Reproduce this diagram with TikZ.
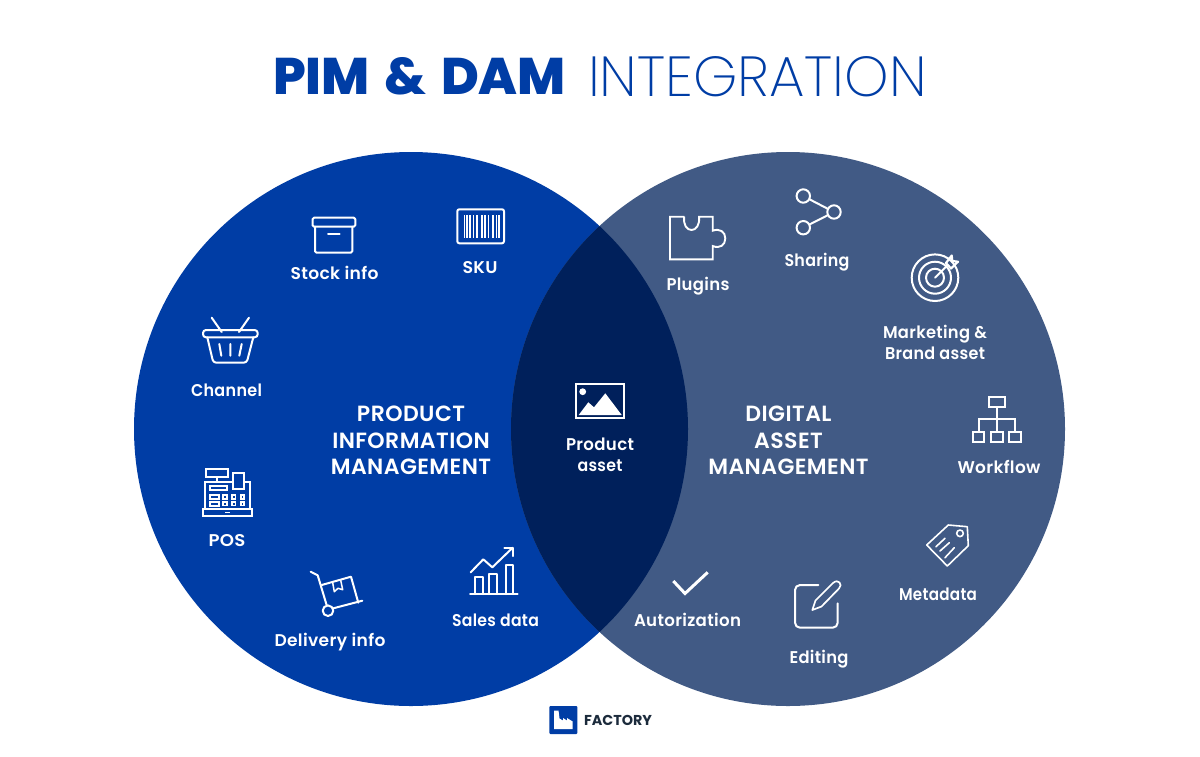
\documentclass[tikz,border=0pt]{standalone}
\usepackage{fontspec}
\usepackage{graphicx}
\setmainfont{Poppins}[BoldFont={Poppins SemiBold},LetterSpace=2]
\newfontfamily\heavyface{Poppins ExtraBold}[WordSpace=1.5]
\newfontfamily\thinface{Poppins ExtraLight}
\newfontfamily\logoface{Poppins Bold}
\definecolor{pimblue}{HTML}{003DA5}
\definecolor{damblue}{HTML}{415A85}
\definecolor{coreblue}{HTML}{00205B}
\definecolor{logoink}{HTML}{1C2B3C}
% Sets a word to a given width while keeping its height
\newcommand{\fitw}[2]{\resizebox{#1pt}{\height}{#2}}
\tikzset{
  icon/.style={draw=white,line width=2pt,line join=round,line cap=round},
  iconthin/.style={draw=white,line width=1.7pt,line join=miter},
  itemlabel/.style={text=white,font=\bfseries\fontsize{17}{21}\selectfont,align=center,inner sep=0pt},
  arealabel/.style={text=white,font=\bfseries\fontsize{22}{26.3}\selectfont,align=center,inner sep=0pt}
}
\begin{document}
\begin{tikzpicture}[x=1pt,y=-1pt]
\useasboundingbox (0,0) rectangle (1200,756);
\fill[white] (0,0) rectangle (1200,756);

% Title
\node[anchor=center,inner sep=0pt,text=pimblue] (titlebold) at (419.5,76.5)
  {\resizebox{293pt}{!}{\heavyface\fontsize{56}{56}\selectfont PIM \& DAM}};
\node[anchor=center,inner sep=0pt,text=pimblue] (titlethin) at (757.5,76.5)
  {\resizebox{339pt}{!}{\thinface\fontsize{56}{56}\selectfont INTEGRATION}};

% Venn circles and their overlap
\fill[pimblue] (411,429) circle[radius=277];
\fill[damblue] (788,429) circle[radius=277];
\begin{scope}
  \clip (411,429) circle[radius=277];
  \fill[coreblue] (788,429) circle[radius=277];
\end{scope}

% Area headings
\node[arealabel] (pim) at (411,440.5) {PRODUCT\\INFORMATION\\MANAGEMENT};
\node[arealabel] (dam) at (788.5,440.5) {DIGITAL\\ASSET\\MANAGEMENT};

% Item labels
\node[itemlabel] (stock) at (334.5,273) {\fitw{88}{Stock info}};
\node[itemlabel] (sku) at (480,267.5) {\fitw{35}{SKU}};
\node[itemlabel] (channel) at (226.5,390) {\fitw{71}{Channel}};
\node[itemlabel] (pos) at (227,540.5) {\fitw{37}{POS}};
\node[itemlabel] (delivery) at (330,642) {\fitw{111}{Delivery info}};
\node[itemlabel] (sales) at (495.5,620) {\fitw{87}{Sales data}};
\node[itemlabel] (product) at (600,454.5) {\fitw{68}{Product}\\\fitw{45}{asset}};
\node[itemlabel] (plugins) at (698,286) {\fitw{63}{Plugins}};
\node[itemlabel] (sharing) at (817,262) {\fitw{65}{Sharing}};
\node[itemlabel] (marketing) at (935,342.5) {\fitw{104}{Marketing \&}\\\fitw{100}{Brand asset}};
\node[itemlabel] (workflow) at (999,467) {\fitw{83}{Workflow}};
\node[itemlabel] (metadata) at (938,594) {\fitw{78}{Metadata}};
\node[itemlabel] (editing) at (819,659) {\fitw{59}{Editing}};
\node[itemlabel] (autorization) at (687.5,619.5) {\fitw{107}{Autorization}};

% Storage box
\draw[icon,rounded corners=1.5pt] (312.5,226.7) -- (312.5,217.7) -- (355.3,217.7) -- (355.3,226.7) -- cycle;
\draw[icon,rounded corners=1.5pt] (315,226.7) -- (315,252.7) -- (352.3,252.7) -- (352.3,226.7);
\draw[icon] (328,233.7) -- (339.7,233.7);

% Barcode
\draw[icon,rounded corners=2pt] (457.3,209.3) rectangle (504,243.3);
\foreach \bx/\bw in {463.5/1.3,466.3/1.3,469/1.8,472.5/1,476/2.4,481/1.5,484/1.5,487.5/1.2,491.5/2.2,496/1,498.3/1.2}
  \fill[white] (\bx,215) rectangle ++(\bw,22.5);

% Shopping basket
\draw[icon,rounded corners=3pt] (203,330) rectangle (257.7,337.3);
\draw[icon,rounded corners=3pt] (207.3,337.3) -- (213.3,362.7) -- (246.7,362.7) -- (253.3,337.3);
\draw[icon] (211.7,317.7) -- (221.7,332) (249,317.7) -- (239,332);
\draw[icon] (219.3,344) -- (221.3,355.7) (230.3,344) -- (230.3,355.7) (241.7,344) -- (239.3,355.7);

% Cash register
\begin{scope}[iconthin]
  \draw (202.7,509.3) rectangle (252,515.7);
  \draw (204.7,509.3) -- (204.7,481.7) -- (232.7,481.7);
  \draw (244.3,481.7) -- (250,481.7) -- (250,509.3);
  \draw (205.7,469) rectangle (228.3,476.7);
  \draw (217,476.7) -- (217,481.7);
  \draw (232.7,489.3) -- (232.7,472.7) -- (244.3,472.7) -- (244.3,489.3) -- cycle;
  \draw (210,485.7) rectangle (227.3,490.3);
  \draw (210,495.3) rectangle (219.3,498.7);
  \draw (210,501.7) rectangle (219.3,505.7);
  \foreach \kx in {223.3,232,240.7}{
    \draw (\kx,495.3) rectangle ++(3.4,3.4);
    \draw (\kx,502) rectangle ++(3.4,3.4);
  }
  \draw (225,512.4) -- (230,512.4);
\end{scope}

% Hand truck with parcel
\draw[icon] (310.7,571.7) -- (317.7,575.3) -- (326.7,605.3);
\draw[icon] (328,610.7) circle[radius=5.3];
\draw[icon] (333.3,608.3) -- (362.3,600.7);
\draw[icon] (321.7,585) -- (351,576.7) -- (358.3,602.7);
\draw[icon,line width=1.5pt] (332.7,582.7) -- (334.3,591.7) -- (338,588.3) -- (342.7,589.7) -- (340.7,580.2);

% Rising bar chart
\draw[icon] (470,594) -- (517.7,594);
\draw[icon] (475,594) -- (475,576.7) -- (483.3,576.7) -- (483.3,594);
\draw[icon] (489.3,594) -- (489.3,574.3) -- (497.3,574.3) -- (497.3,594);
\draw[icon] (505.7,594) -- (505.7,564.7) -- (512.7,564.7) -- (512.7,594);
\draw[icon] (470.7,572.3) -- (483.3,559.3) -- (492.3,567.3) -- (512.7,547.7);
\draw[icon] (504.3,547.7) -- (512.7,547.7) -- (512.7,556);

% Picture frame with mountains
\draw[draw=white,line width=2pt] (575.7,383.7) rectangle (624.3,417.7);
\fill[white] (582.7,391.7) circle[radius=3.4];
\fill[white] (578.7,415) -- (588.3,402.3) -- (594,407.3) -- (605.3,393.3) -- (621.7,415) -- cycle;

% Puzzle piece
\draw[iconthin,line width=1.9pt] (684.3,216.7) -- (670,216.7) -- (670,259.3) -- (712.7,259.3) -- (712.7,246)
  .. controls (720,249) and (725.3,245) .. (725.3,238.3)
  .. controls (725.3,232) and (720,228) .. (712.7,230.7)
  -- (712.7,216.7) -- (699,216.7)
  .. controls (700,225) and (696,230) .. (691.6,230)
  .. controls (687,230) and (683,225) .. (684.3,216.7);

% Share glyph
\draw[icon] (803.3,196) circle[radius=6.7];
\draw[icon] (834,212) circle[radius=6.7];
\draw[icon] (803.3,227.7) circle[radius=6.7];
\draw[icon] (809.3,199.2) -- (828,208.9) (809.3,224.6) -- (828,215.1);

% Target with dart
\draw[icon] (935,277.7) circle[radius=23.3];
\draw[icon] (935,277.7) circle[radius=16];
\draw[icon] (935,277.7) circle[radius=9];
\draw[icon] (935,277.7) -- (947,265.7);
\draw[icon,line width=2.2pt] (946,263) -- (951.7,255.5) -- (952.3,261) -- (958,261.7) -- (951,268.5) -- cycle;

% Workflow tree
\begin{scope}[iconthin]
  \draw (989,397.3) rectangle (1005.3,407.3);
  \draw (997,407.3) -- (997,432.3);
  \draw (978.7,432.3) -- (978.7,419.3) -- (1015.3,419.3) -- (1015.3,432.3);
  \draw (973,432.3) rectangle (984.3,442.3);
  \draw (991,432.3) rectangle (1002.7,442.3);
  \draw (1009.3,432.3) rectangle (1021.3,442.3);
\end{scope}

% Price tag
\draw[icon,line width=1.6pt] (926.7,545) -- (948.3,525) -- (967.3,526.7) -- (968.3,545.7) -- (947.3,566) -- cycle;
\draw[icon,line width=1.6pt] (960,533.3) circle[radius=3.3];
\draw[icon,line width=1.6pt] (936,546.7) -- (945,538.3) (940,551) -- (949.3,542.7) (945,557.7) -- (954.3,547.7);

% Check mark
\draw[draw=white,line width=3pt,line join=miter] (673.3,581) -- (685,593.5) -- (707.7,572.3);

% Note with pencil
\draw[icon,rounded corners=5pt] (818.3,585) -- (795,585) -- (795,627.7) -- (837.7,627.7) -- (837.7,603.3);
\draw[icon,line width=1.7pt] (812.3,610) -- (815.5,600.5) -- (833,583) .. controls (836,580.5) and (838,581) .. (839.5,582.5)
  .. controls (841,584) and (841,586.5) .. (839,588.5) -- (821.5,606.5) -- cycle;

% Vendor logo
\fill[pimblue,rounded corners=1pt] (549.3,706) rectangle (577.3,734);
\fill[white] (554,710.5) -- (558.5,710.5) -- (559.5,718.5) -- (563,720.5) -- (563,718) -- (567,720.5) -- (567,718) -- (572.7,721.5) -- (572.7,729) -- (554,729) -- cycle;
\node[anchor=center,inner sep=0pt,text=logoink] (logotext) at (618,720)
  {\resizebox{68pt}{!}{\logoface\fontsize{14}{14}\selectfont FACTORY}};
\end{tikzpicture}
\end{document}
